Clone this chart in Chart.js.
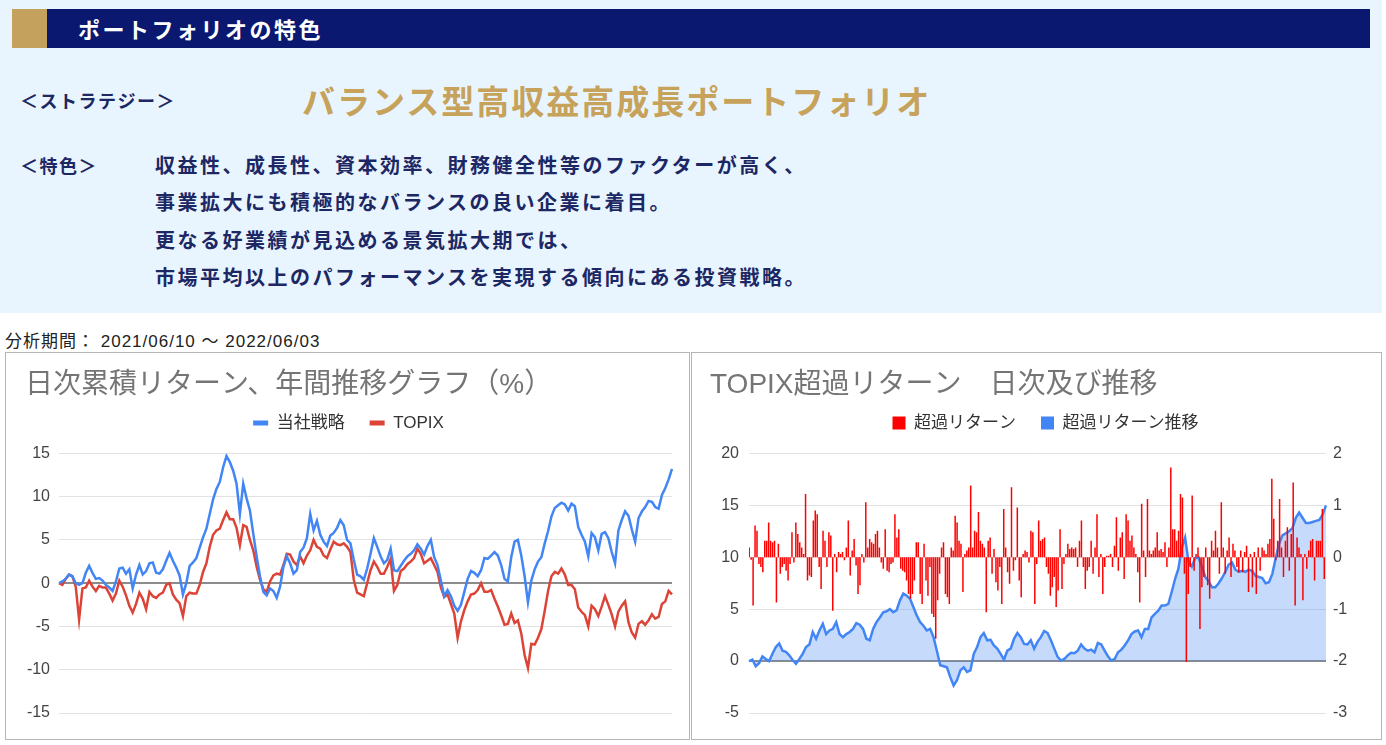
<!DOCTYPE html>
<html lang="ja">
<head>
<meta charset="utf-8">
<script src="https://cdn.jsdelivr.net/npm/chart.js@4.4.1/dist/chart.umd.min.js"></script>
<style>
  body { margin: 0; width: 1386px; height: 745px; background: #fff; position: relative; overflow: hidden;
         font-family: "Noto Sans CJK JP", sans-serif; }
  #top { position: absolute; left: 0; top: 0; width: 1382px; height: 313px; background: #e9f5fe; }
  #bar { position: absolute; left: 12px; top: 9px; width: 1358px; height: 39px; background: #0b1870; }
  #bar .gold { position: absolute; left: 0; top: 0; width: 35px; height: 39px; background: #c4a15c; }
  #bar .t { position: absolute; left: 66px; top: 0; line-height: 39px; color: #fff; font-weight: bold;
            font-size: 22px; letter-spacing: 2.5px; }
  .navy { position: absolute; color: #1c2764; font-weight: bold; white-space: nowrap; }
  #stratLabel { left: 20px; top: 88px; line-height: 24px; font-size: 18px; letter-spacing: 1.5px; }
  #featLabel { left: 20px; top: 153px; line-height: 24px; font-size: 18px; letter-spacing: 1.5px; }
  #stratName { position: absolute; left: 302px; top: 79px; line-height: 42px; font-size: 33px; font-weight: bold;
               color: #c6a25a; letter-spacing: 2px; white-space: nowrap; }
  #featText { left: 155px; top: 146px; line-height: 37.3px; font-size: 20px; letter-spacing: 2.5px; }
  #period { position: absolute; left: 5px; top: 331px; line-height: 22px; font-size: 17px; color: #222;
            letter-spacing: 1px; font-family: "Liberation Sans", "Noto Sans CJK JP", sans-serif; }
  .box { position: absolute; top: 352px; height: 388px; border: 1px solid #b5b5b5; box-sizing: border-box; }
  #box1 { left: 5px; width: 685px; }
  #box2 { left: 691px; width: 691px; }
  .wrap { position: relative; width: 100%; height: 100%; }
</style>
</head>
<body>
<div id="top">
  <div id="bar"><div class="gold"></div><div class="t">ポートフォリオの特色</div></div>
  <div id="stratLabel" class="navy">＜ストラテジー＞</div>
  <div id="stratName">バランス型高収益高成長ポートフォリオ</div>
  <div id="featLabel" class="navy">＜特色＞</div>
  <div id="featText" class="navy">収益性、成長性、資本効率、財務健全性等のファクターが高く、<br>事業拡大にも積極的なバランスの良い企業に着目。<br>更なる好業績が見込める景気拡大期では、<br>市場平均以上のパフォーマンスを実現する傾向にある投資戦略。</div>
</div>
<div id="period">分析期間：&nbsp;2021/06/10 ～ 2022/06/03</div>
<div class="box" id="box1"><div class="wrap"><canvas id="cumChart"></canvas></div></div>
<div class="box" id="box2"><div class="wrap"><canvas id="excessChart"></canvas></div></div>

<script>
// cumulative return (%), one value per sampled trading day
const cumStrategy = [
  0, 0.2, 0.5, 1.0, 0.8, 0, -0.2, 0, 1.2, 2.0,
  1.2, 0.5, 0.6, 0.3, -0.2, -0.5, -0.9, 0.2, 1.7, 1.8,
  1.1, 1.6, -0.6, 1.0, 2.1, 1.0, 1.4, 2.3, 2.4, 1.2,
  1.1, 1.6, 2.6, 3.5, 2.6, 1.8, 0.9, -1.3, 0, 2.0,
  2.4, 2.9, 4.1, 5.3, 6.3, 8.0, 9.7, 10.9, 11.7, 13.4,
  14.7, 14.0, 13.0, 11.5, 8.0, 11.5, 9.8, 8.4, 5.7, 3.1,
  0.8, -1.0, -1.4, -0.6, -0.9, -1.7, -0.4, 1.9, 3.1, 2.3,
  1.1, 1.5, 3.6, 4.1, 5.2, 8.0, 6.1, 7.2, 5.6, 4.8,
  4.3, 5.5, 5.8, 6.4,
  7.3, 6.7, 5.0, 4.6, 2.7, 1.0, 0.8, 0.4, 1.7, 3.4,
  5.2, 4.2, 3.1, 2.3, 2.7, 4.0, 1.5, 1.4, 2.0, 2.6,
  3.1, 3.4, 3.8, 4.5, 4.0, 3.3, 4.3, 5.0, 3.0, 2.1,
  0.3, -1.5, -0.8, -1.5, -2.6, -3.2, -2.5, -1.0, 0.5, 1.4,
  1.2, 0.8, 1.5, 2.9, 2.8, 3.2, 3.6, 3.2, 2.1, 0.5,
  0.2, 3.0, 4.8, 5.0, 3.2, 0.8, -2.2, 0.3, 1.6, 2.5,
  3.0, 4.6, 6.0, 7.7, 8.7, 9.0, 9.3, 9.1, 8.4, 9.2,
  8.9, 6.5, 5.6, 4.8, 3.1, 5.8, 5.3, 3.8, 5.7, 5.9,
  5.2, 3.6, 2.3, 6.1, 7.3, 8.3, 7.8, 6.2, 4.8, 7.5,
  8.3, 8.8, 9.5, 9.4, 8.8, 8.6, 10.2, 11.0, 12.0, 13.2
];
const cumTopix = [
  0, -0.2, 0.5, 1.0, 0.8, -0.4, -4.2, -0.6, -0.5, 0.3,
  -0.4, -0.9, -0.3, -0.5, -0.5, -1.2, -2.0, -1.2, 0.3, -0.4,
  -1.4, -2.6, -3.4, -2.4, -1.1, -1.8, -3.0, -1.0, -1.5, -1.7,
  -1.3, -1.1, -0.2, 0, -1.3, -1.9, -2.3, -3.8, -1.5, -1.1,
  -1.2, -1.2, -0.2, 1.3, 2.3, 4.2, 5.6, 6.1, 6.3, 7.3,
  8.2, 7.4, 7.4, 6.4, 4.4, 6.7, 6.5, 5.0, 3.8, 1.9,
  0.4, -0.7, -1.0, 0.2, 0.9, 1.1, 1.0, 2.1, 3.4, 3.3,
  2.5, 2.1, 3.1, 2.3, 3.2, 3.8, 5.0, 4.2, 4.0, 3.2,
  2.9, 3.9, 4.8, 4.5,
  4.4, 4.6, 4.2, 3.6, 0.4, -1.1, -1.3, -1.5, 0, 1.5,
  2.5, 1.9, 1.1, 1.1, 1.9, 2.8, -0.9, -0.2, 1.4, 1.7,
  2.2, 2.5, 2.9, 4.0, 3.4, 2.3, 2.6, 2.9, 2.1, 1.3,
  -0.5, -1.6, -1.3, -2.4, -3.5, -6.3, -4.4, -3.1, -2.1, -1.3,
  -1.2, -0.8, 0, -1.0, -1.0, -0.8, -1.8, -2.7, -3.7, -4.8,
  -4.7, -3.5, -4.6, -4.3, -5.8, -8.3, -9.8, -7.0, -7.1, -6.3,
  -5.3, -3.2, -0.9, 0.8, 1.3, 1.1, 1.7, 1.0, -0.2, -0.2,
  -0.7, -2.8, -3.3, -3.7, -5.0, -2.6, -3.0, -3.8, -2.7, -1.5,
  -2.5, -3.6, -5.0, -3.3, -2.6, -2.1, -4.5, -5.7, -6.3, -4.7,
  -4.4, -4.8, -4.3, -3.6, -4.1, -3.9, -2.4, -2.1, -0.9, -1.3
];
const cumDays = cumStrategy.map((_, i) => i + 1);

// daily excess return vs TOPIX (%), right axis
const excessDaily = [
  0.19, -0.05, -0.93, 0.61, 0.51, -0.13, -0.19, -0.29, 0.32, 0.32,
  0.67, 0.32, 0.29, 0.32, -0.87, 0.26, -0.32, -0.19, -0.13, -0.26,
  -0.45, -0.13, 0.48, -0.10, 0.67, 0.45, 0.29, 0.19, 0.06, 1.22,
  -0.45, -0.35, -0.38, 0.71, 0.90, 0.83, -0.19, -0.61, 0.51, 0.32,
  -0.19, 0.48, 0.42, -1.03, 0.06, -0.29, 0.10, 0.06, 0.10, -0.06,
  0.19, 0.71, -0.35, 0.13, 0.35, -0.16, -0.71, -0.54, 0.06, -0.10,
  1.06, 0.19, 0.35, 0.29, 0.26, 0.45, 0.51, 0.19, -0.10, -0.22,
  0.54, -0.26, -0.29, -0.13, -0.10, 0.83, 0.38, 0.54, -0.22, -0.26,
  -0.29, -0.45, -0.71, -0.80, -0.71, -0.45, 0.29, 0.29, -0.71, -0.90,
  0.26, -0.45, -0.74, -0.19, -1.09, -1.15, -1.57, -0.83, -0.32, 0.19,
  0.29, -0.71, -0.77, -0.90, 0.19, 0.13, 0.80, 0.67, 0.32, 0.26,
  -0.67, 0.06, 0.13, 0.19, 1.38, 0.19, 0.51, 0.48, 0.87, 0.32,
  0.26, 0.19, -1.06, 0.32, 0.38, -0.32, 0.16, -0.48, -0.64, -0.19,
  -0.90, 0.93, 0.19, -0.29, -0.51, 1.35, -0.26, -0.06, 0.96, -0.45,
  -0.77, 0.06, 0.13, 0.10, -0.10, 0.51,
  0.48, -0.90, -0.13, 0.71, 0.32, 0.35, 0.38, -0.19, -0.32, -0.74,
  -0.58, -0.38, -0.96, -0.64, 0.54, -0.61, -0.13, 0.06, 0.26, 0.16,
  0.19, 0.16, 0.19, -0.19, 0.32, 0.71, -0.19, -0.61, -0.26, -0.19,
  0.32, -0.32, 0.19, 0.83, -0.38, 0.06, -0.71, -0.19, 0.03, 0.03,
  0.06, -0.19, 0.22, 0.77, -0.26, 0.38, 0.48, -0.42, 0.83, 0.71,
  0.32, 0.42, 0.19, 0.06, -0.29, -0.87, 1.03, 0.13, -0.38, 1.12,
  0.13, 0.06, 0.13, 0.19, 0.48, 0.13, 0.16, 0.10, 0.29, -0.19,
  0.19, 1.73, 0.54, 0.54, 0.32, 0.51, 1.22, 1.15, -0.32, -2.02,
  -0.71, -0.19, 1.19, -0.26, 0.06, 0.19, -1.38, -0.58, -0.38, 0.19,
  -0.54, -0.80, 0.32, 0.13, 0.51, 0.19, -0.32, 1.06, 0.19, -0.32,
  0.13, 0.38, -0.38, 0.26, 0.13, -0.19, -0.29, 0.13, -0.29, 0.10,
  0.22, -0.67, 0.06, -0.58, 0.10, -0.71, 0.19, -0.26, 0.19, 0.13,
  0.06, 0.26, 0.35, 1.51, 0.74, -0.06, 0.32, 1.12, 0.19, -0.38,
  0.32, 0.58, -0.26, 0.45, 1.44, -0.93, 0.38, 0.19, 0.06, -0.83,
  0.06, -0.22, 0.13, 0.32, 0.35, -0.45, 0.32, 0.32, 0.32, 0.93,
  -0.42
];
const excessDays = excessDaily.map((_, i) => i + 1);

// cumulative excess return (%), left axis
const excessCum = [
  0, 0.15, -0.5, -0.2, 0.45, 0.2, 0, 0.7, 1.35, 1.7,
  1.0, 0.9, 0.55, 0.1, -0.25, 0.2, 0.7, 1.35, 1.6, 2.8,
  2.15, 2.95, 3.6, 2.6, 2.95, 3.1, 3.75, 2.6, 2.3, 2.6,
  2.8, 3.1, 3.65, 3.5, 3.1, 2.15, 2.0, 3.1, 3.75, 4.2,
  4.7, 4.8, 5.0, 4.7, 4.9, 5.85, 6.5, 6.3, 6.0, 5.2,
  4.4, 3.75, 3.4, 2.95, 3.1, 2.3, 1.0, -0.4, -0.5, -0.6,
  -1.55, -2.35, -1.85, -0.9, -0.6, -1.05, -0.9, 0.7, 1.35, 2.3,
  2.7, 2.0, 2.05, 1.5, 1.2, 0.7, 0.15, 1.0, 1.2, 2.15,
  2.7, 2.3, 1.65, 1.6,
  2.0, 1.2, 1.85, 2.3, 2.9, 2.7, 2.0, 1.2, 0.4, 0.05,
  0.2, 0.55, 0.8, 0.75, 1.0, 1.6, 1.2, 1.0, 1.1, 0.85,
  1.75, 1.6, 1.0, 0.45, 0.05, 0.2, 0.85, 1.1, 1.5, 2.0,
  2.6, 2.85, 2.95, 2.3, 3.1, 3.1, 4.2, 4.55, 4.85, 5.35,
  5.35, 5.5, 6.65, 7.9, 8.9, 10.9, 11.9, 9.6, 9.1, 9.9,
  10.0, 9.1, 8.1, 7.7, 7.1, 7.1, 7.5, 8.0, 8.6, 9.3,
  9.5, 8.8, 8.6, 8.7, 8.6, 8.8, 8.7, 8.2, 8.1, 8.0,
  7.5, 7.6, 8.4, 9.9, 11.3, 12.1, 12.3, 12.5, 12.8, 13.8,
  14.3, 13.8, 13.3, 13.3, 13.4, 13.5, 13.6, 14.1, 15.0
];
const excessCumDays = excessCum.map((_, i) => i + 1);

const cumNames = ['当社戦略', 'TOPIX'];
const excessNames = ['超過リターン', '超過リターン推移'];

Chart.defaults.font.family = '"Liberation Sans", Arial, "Noto Sans CJK JP", sans-serif';
Chart.defaults.color = '#444';

const gridColor = c => (c.tick && c.tick.value === 0 ? '#8c8c8c' : '#e2e2e2');
const gridWidth = c => (c.tick && c.tick.value === 0 ? 2 : 1);
const solidLegend = chart => Chart.defaults.plugins.legend.labels.generateLabels(chart)
  .map(l => Object.assign(l, { fillStyle: l.strokeStyle, lineWidth: 0 }));

function titleOpts(text) {
  return {
    display: true, text: text, align: 'start', color: '#757575',
    font: { size: 28, weight: 'normal', lineHeight: 0.3 },
    padding: { top: 28, bottom: 0 }
  };
}
function legendOpts(w, h) {
  return { labels: { boxWidth: w, boxHeight: h, padding: 25, color: '#333', font: { size: 17 },
                     generateLabels: solidLegend } };
}
// hidden top axis keeps the gap between legend and plot
const topGap = { position: 'top', ticks: { display: false }, grid: { display: false },
                 border: { display: false }, afterFit: s => { s.height = 12; } };
const tickFont = { size: 16 };

new Chart(document.getElementById('cumChart'), {
  type: 'line',
  data: {
    labels: cumDays,
    datasets: [
      { label: cumNames[0], data: cumStrategy, borderColor: '#4285f4', borderWidth: 2.5, pointRadius: 0 },
      { label: cumNames[1], data: cumTopix, borderColor: '#db4437', borderWidth: 2.5, pointRadius: 0 }
    ]
  },
  options: {
    responsive: true, maintainAspectRatio: false, animation: false,
    layout: { padding: { left: 19, right: 17, top: 0, bottom: 26 } },
    plugins: {
      title: titleOpts('日次累積リターン、年間推移グラフ（%）'),
      legend: legendOpts(15, 5),
      tooltip: { enabled: false }
    },
    scales: {
      x: topGap,
      y: {
        min: -15, max: 15,
        ticks: { stepSize: 5, padding: 9, font: tickFont, color: '#444' },
        grid: { color: gridColor, lineWidth: gridWidth, drawTicks: false },
        border: { display: false },
        afterFit: s => { s.width = 34; }
      }
    }
  }
});

new Chart(document.getElementById('excessChart'), {
  type: 'bar',
  data: {
    labels: excessDays,
    datasets: [
      { type: 'bar', label: excessNames[0], data: excessDaily, xAxisID: 'x', yAxisID: 'y1',
        backgroundColor: '#f00', borderColor: '#f00', borderWidth: 0, barThickness: 1.5,
        inflateAmount: 0, order: 0 },
      { type: 'line', label: excessNames[1], data: excessCum, xAxisID: 'x2', yAxisID: 'y',
        borderColor: '#4285f4', backgroundColor: 'rgba(66,133,244,0.3)', borderWidth: 2.5,
        pointRadius: 0, fill: 'origin', order: 1 }
    ]
  },
  options: {
    responsive: true, maintainAspectRatio: false, animation: false,
    layout: { padding: { left: 18, right: 0, top: 0, bottom: 26 } },
    plugins: {
      title: titleOpts('TOPIX超過リターン　日次及び推移'),
      legend: legendOpts(13, 13),
      tooltip: { enabled: false }
    },
    scales: {
      x: topGap,
      x2: { type: 'category', labels: excessCumDays, display: false, offset: false },
      y: {
        position: 'left', min: -5, max: 20,
        ticks: { stepSize: 5, padding: 10, font: tickFont, color: '#444' },
        grid: { color: gridColor, lineWidth: gridWidth, drawTicks: false },
        border: { display: false },
        afterFit: s => { s.width = 39; }
      },
      y1: {
        position: 'right', min: -3, max: 2,
        ticks: { stepSize: 1, padding: 7, font: tickFont, color: '#444' },
        grid: { display: false, drawTicks: false },
        border: { display: false },
        afterFit: s => { s.width = 55; }
      }
    }
  }
});
</script>
</body>
</html>
